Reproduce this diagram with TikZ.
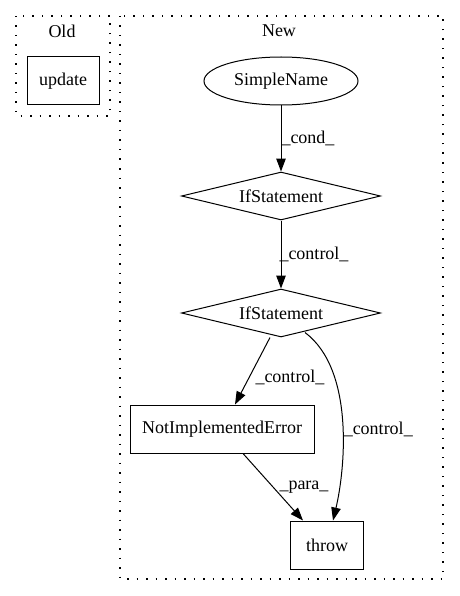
\documentclass[tikz,border=0pt]{standalone}
\usepackage{fontspec}
\setmainfont{Liberation Serif}
\usetikzlibrary{shapes.geometric,arrows.meta,calc}
\begin{document}
\begin{tikzpicture}[x=1pt,y=-1pt,
  every node/.style={font=\fontsize{18}{20}\selectfont},
  cluster/.style={draw,line width=1.2pt,dash pattern=on 1.5pt off 8pt},
  box/.style={draw,line width=1pt,rectangle,minimum height=48pt,inner sep=0pt},
  oval/.style={draw,line width=1pt,ellipse,minimum width=154pt,minimum height=48pt,inner sep=0pt},
  dia/.style={draw,line width=1pt,diamond,aspect=4,minimum width=199pt,minimum height=48pt,inner sep=0pt},
  edge/.style={line width=1pt,-{Triangle[length=13pt,width=9.5pt]}},
  lbl/.style={inner sep=0pt,anchor=west}]
\useasboundingbox (0,0) rectangle (459,596);
% clusters
\draw[cluster] (16,16) rectangle (110,116);
\draw[cluster] (120,16) rectangle (443,579);
\node (oldlbl) at (62,31) {Old};
\node (newlbl) at (279,31) {New};
% nodes
\node[box,minimum width=72pt] (upd) at (63,81) {update};
\node[oval] (sn) at (281,81) {SimpleName};
\node[dia] (if1) at (281,196) {IfStatement};
\node[dia] (if2) at (281,313) {IfStatement};
\node[box,minimum width=184pt] (nie) at (222,429) {NotImplementedError};
\node[box,minimum width=73pt] (thr) at (327,545) {throw};
% edges
\draw[edge] (sn) -- node[lbl,pos=0.5,xshift=0pt]{\_cond\_} (if1);
\draw[edge] (if1) -- node[lbl,pos=0.5,xshift=-2pt]{\_control\_} (if2);
\draw[edge] ($(if2.south)+(-11,0)$) -- node[lbl,pos=0.5,xshift=2.5pt,yshift=-6.5pt]{\_control\_} ($(nie.north)+(13,0)$);
\draw[edge] ($(if2.south)+(24,-5)$) .. controls (355,370) and (345,470) .. node[lbl,pos=0.5,xshift=1pt,yshift=-8pt]{\_control\_} ($(thr.north)+(6,0)$);
\draw[edge] ($(nie.south)+(21,0)$) -- node[lbl,pos=0.5,xshift=6pt]{\_para\_} ($(thr.north)+(-24,0)$);
\end{tikzpicture}
\end{document}
